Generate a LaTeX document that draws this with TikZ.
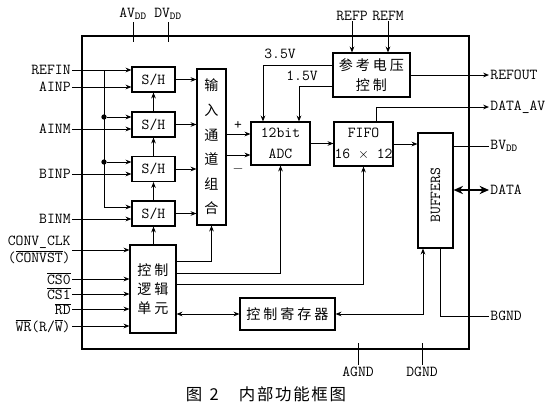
\documentclass[tikz,border=0pt]{standalone}
\usepackage{fontspec}
\newfontfamily\cjk{Noto Sans CJK SC}
\usetikzlibrary{arrows.meta}
\newcommand{\ovl}[1]{$\overline{\hbox{#1}}$}
\newcommand{\gp}{\hspace{2.5pt}}
\tikzset{
  box/.style={draw, line width=1pt, inner sep=0pt, align=center, font=\ttfamily\fontsize{13}{18}\selectfont},
  lab/.style={font=\ttfamily\fontsize{13}{14}\selectfont, inner xsep=1pt, inner ysep=0pt},
  wire/.style={line width=0.8pt},
  dot/.style={circle, fill, inner sep=0pt, minimum size=4.5pt},
  >={Stealth[length=5pt,width=4pt]},
}
\begin{document}
\begin{tikzpicture}[x=0.03cm, y=-0.03cm]
\useasboundingbox (0,0) rectangle (549,411);
% outer frame
\node[draw, line width=2.4pt, minimum width=11.61cm, minimum height=9.39cm] (frame) at (275.5,192.5) {};

% sample and hold
\node[box, minimum width=1.29cm, minimum height=0.75cm] (sh1) at (153.5,79.5) {S/H};
\node[box, minimum width=1.29cm, minimum height=0.75cm] (sh2) at (153.5,124.5) {S/H};
\node[box, minimum width=1.29cm, minimum height=0.75cm] (sh3) at (153.5,169) {S/H};
\node[box, minimum width=1.29cm, minimum height=0.75cm] (sh4) at (153.5,213.5) {S/H};
\node[box, minimum width=0.87cm, minimum height=4.68cm, font=\cjk\fontsize{12}{21}\selectfont] (mux) at (211.5,147) {输\\入\\通\\道\\组\\合};
\node[box, minimum width=1.77cm, minimum height=1.29cm] (adc) at (280.5,143.5) {12bit\\ADC};
\node[box, minimum width=1.77cm, minimum height=1.32cm] (fifo) at (363.5,144) {FIFO\\16 $\times$ 12};
\node[box, minimum width=1.05cm, minimum height=3.45cm] (buf) at (435.5,190.5) {};
\node[lab, rotate=90] (buftxt) at ([yshift=-4pt]buf.center) {BUFFERS};
\node[box, minimum width=2.31cm, minimum height=1.32cm, font=\cjk\fontsize{12}{17}\selectfont] (ref) at (371.5,75) {参\gp 考\gp 电\gp 压\\控\gp 制};
\node[box, minimum width=1.38cm, minimum height=2.64cm, font=\cjk\fontsize{12}{16}\selectfont] (ctl) at (153,289) {控\gp 制\\逻\gp 辑\\单\gp 元};
\node[box, minimum width=2.85cm, minimum height=0.96cm, font=\cjk\fontsize{12}{14}\selectfont] (reg) at (287.5,314) {控\gp 制\gp 寄\gp 存\gp 器};

% left inputs
\node[lab, anchor=east] (refin) at (72,70) {REFIN};
\node[lab, anchor=east] (ainp) at (72,87) {AINP};
\node[lab, anchor=east] (ainm) at (72,129) {AINM};
\node[lab, anchor=east] (binp) at (72,174) {BINP};
\node[lab, anchor=east] (binm) at (72,219) {BINM};
\node[lab, anchor=east, align=right] (conv) at (72,250) {CONV\_CLK\\(\ovl{CONVST})};
\node[lab, anchor=east] (cs0) at (72,279) {\ovl{CS0}};
\node[lab, anchor=east] (cs1) at (72,294) {\ovl{CS1}};
\node[lab, anchor=east] (rd) at (72,309) {\ovl{RD}};
\node[lab, anchor=east] (wr) at (72,326) {\ovl{WR}(R/\ovl{W})};
\draw[wire,->] (refin.east) -- (refin.east -| sh1.west);
\draw[wire,->] (ainp.east) -- (ainp.east -| sh1.west);
\draw[wire,->] (ainm.east) -- (ainm.east -| sh2.west);
\draw[wire,->] (binp.east) -- (binp.east -| sh3.west);
\draw[wire,->] (binm.east) -- (binm.east -| sh4.west);
\foreach \s in {conv,cs0,cs1,rd,wr}
  \draw[wire,->] (\s.east) -- (\s.east -| ctl.west);

% REFIN bus to the S/H stages
\coordinate (bb) at (104,207);
\node[dot] (d2) at (104,117) {};
\node[dot] (d3) at (104,162) {};
\draw[wire] (refin.east -| bb) -- (bb);
\draw[wire,->] (bb) -- (bb -| sh4.west);
\draw[wire,->] (d2) -- (d2 -| sh2.west);
\draw[wire,->] (d3) -- (d3 -| sh3.west);
\draw[wire,->] (sh2.north) -- (sh1.south);
\draw[wire,->] (sh3.north) -- (sh2.south);
\draw[wire,->] (sh4.north) -- (sh3.south);
\draw[wire,->] (sh4.south |- ctl.north) -- (sh4.south);
\foreach \s in {sh1,sh2,sh3,sh4}
  \draw[wire,->] (\s.east) -- (\s.east -| mux.west);

% mux to ADC
\coordinate (yp) at (0,134);
\coordinate (ym) at (0,155);
\draw[wire,->] (mux.east |- yp) -- (adc.west |- yp);
\draw[wire,->] (mux.east |- ym) -- (adc.west |- ym);
\node[lab] (plus) at (238,125) {+};
\node[lab] (minus) at (238,169) {$-$};
\draw[wire,->] (adc.east) -- (adc.east -| fifo.west);
\draw[wire,->] (fifo.east) -- (fifo.east -| buf.west);

% reference voltages
\coordinate (v35) at (263,65);
\coordinate (v15) at (299,86);
\draw[wire,->] (ref.west |- v35) -| (adc.north -| v35);
\draw[wire,->] (ref.west |- v15) -| (adc.north -| v15);
\node[lab] (l35) at (280,54) {3.5V};
\node[lab] (l15) at (302,76) {1.5V};
\node[lab] (refp) at (352,16) {REFP};
\node[lab] (refm) at (388,16) {REFM};
\draw[wire,->] (refp.south) -- (refp.south |- ref.north);
\draw[wire,->] (refm.south) -- (refm.south |- ref.north);

% right side outputs
\node[lab, anchor=west] (refout) at (489,75) {REFOUT};
\node[lab, anchor=west] (dav) at (489,107) {DATA\_AV};
\node[lab, anchor=west] (bvdd) at (489,146) {BV\textsubscript{DD}};
\node[lab, anchor=west] (data) at (489,190) {DATA};
\node[lab, anchor=west] (bgnd) at (489,316) {BGND};
\coordinate (avx) at (376,0);
\coordinate (bgx) at (440,0);
\coordinate (brx) at (423,0);
\draw[wire,->] (ref.east) -- (refout.west);
\draw[wire,->] (fifo.north -| avx) |- (dav.west);
\draw[wire] (buf.east |- bvdd.west) -- (bvdd.west);
\draw[line width=1.8pt, <->, >={Stealth[length=8pt,width=7pt]}] (buf.east |- data.west) -- (data.west);
\draw[wire] (buf.south -| bgx) |- (bgnd.west);
\draw[wire,<->] (buf.south -| brx) |- (reg.east);
\draw[wire,<->] (ctl.east |- reg.west) -- (reg.west);

% control logic outputs
\coordinate (c1) at (0,261);
\coordinate (c2) at (0,273);
\coordinate (c3) at (0,284);
\draw[wire,->] (ctl.east |- c1) -| (mux.south);
\draw[wire,->] (ctl.east |- c2) -| (adc.south);
\draw[wire,->] (ctl.east |- c3) -| (fifo.south);

% supply pins
\node[lab] (avdd) at (133,14) {AV\textsubscript{DD}};
\node[lab] (dvdd) at (168,14) {DV\textsubscript{DD}};
\node[lab] (agnd) at (358,372) {AGND};
\node[lab] (dgnd) at (422,372) {DGND};
\foreach \s in {avdd,dvdd}
  \draw[wire] ([yshift=-2pt]\s.south) -- ([yshift=-6pt]\s.south |- frame.north);
\foreach \s in {agnd,dgnd}
  \draw[wire] ([yshift=2pt]\s.north) -- ([yshift=6pt]\s.north |- frame.south);

% caption
\node[font=\cjk\fontsize{14}{16}\selectfont] (cap) at (266,394) {图\ \ 2\quad\ 内\hspace{1.5pt}部\hspace{1.5pt}功\hspace{1.5pt}能\hspace{1.5pt}框\hspace{1.5pt}图};
\end{tikzpicture}
\end{document}
